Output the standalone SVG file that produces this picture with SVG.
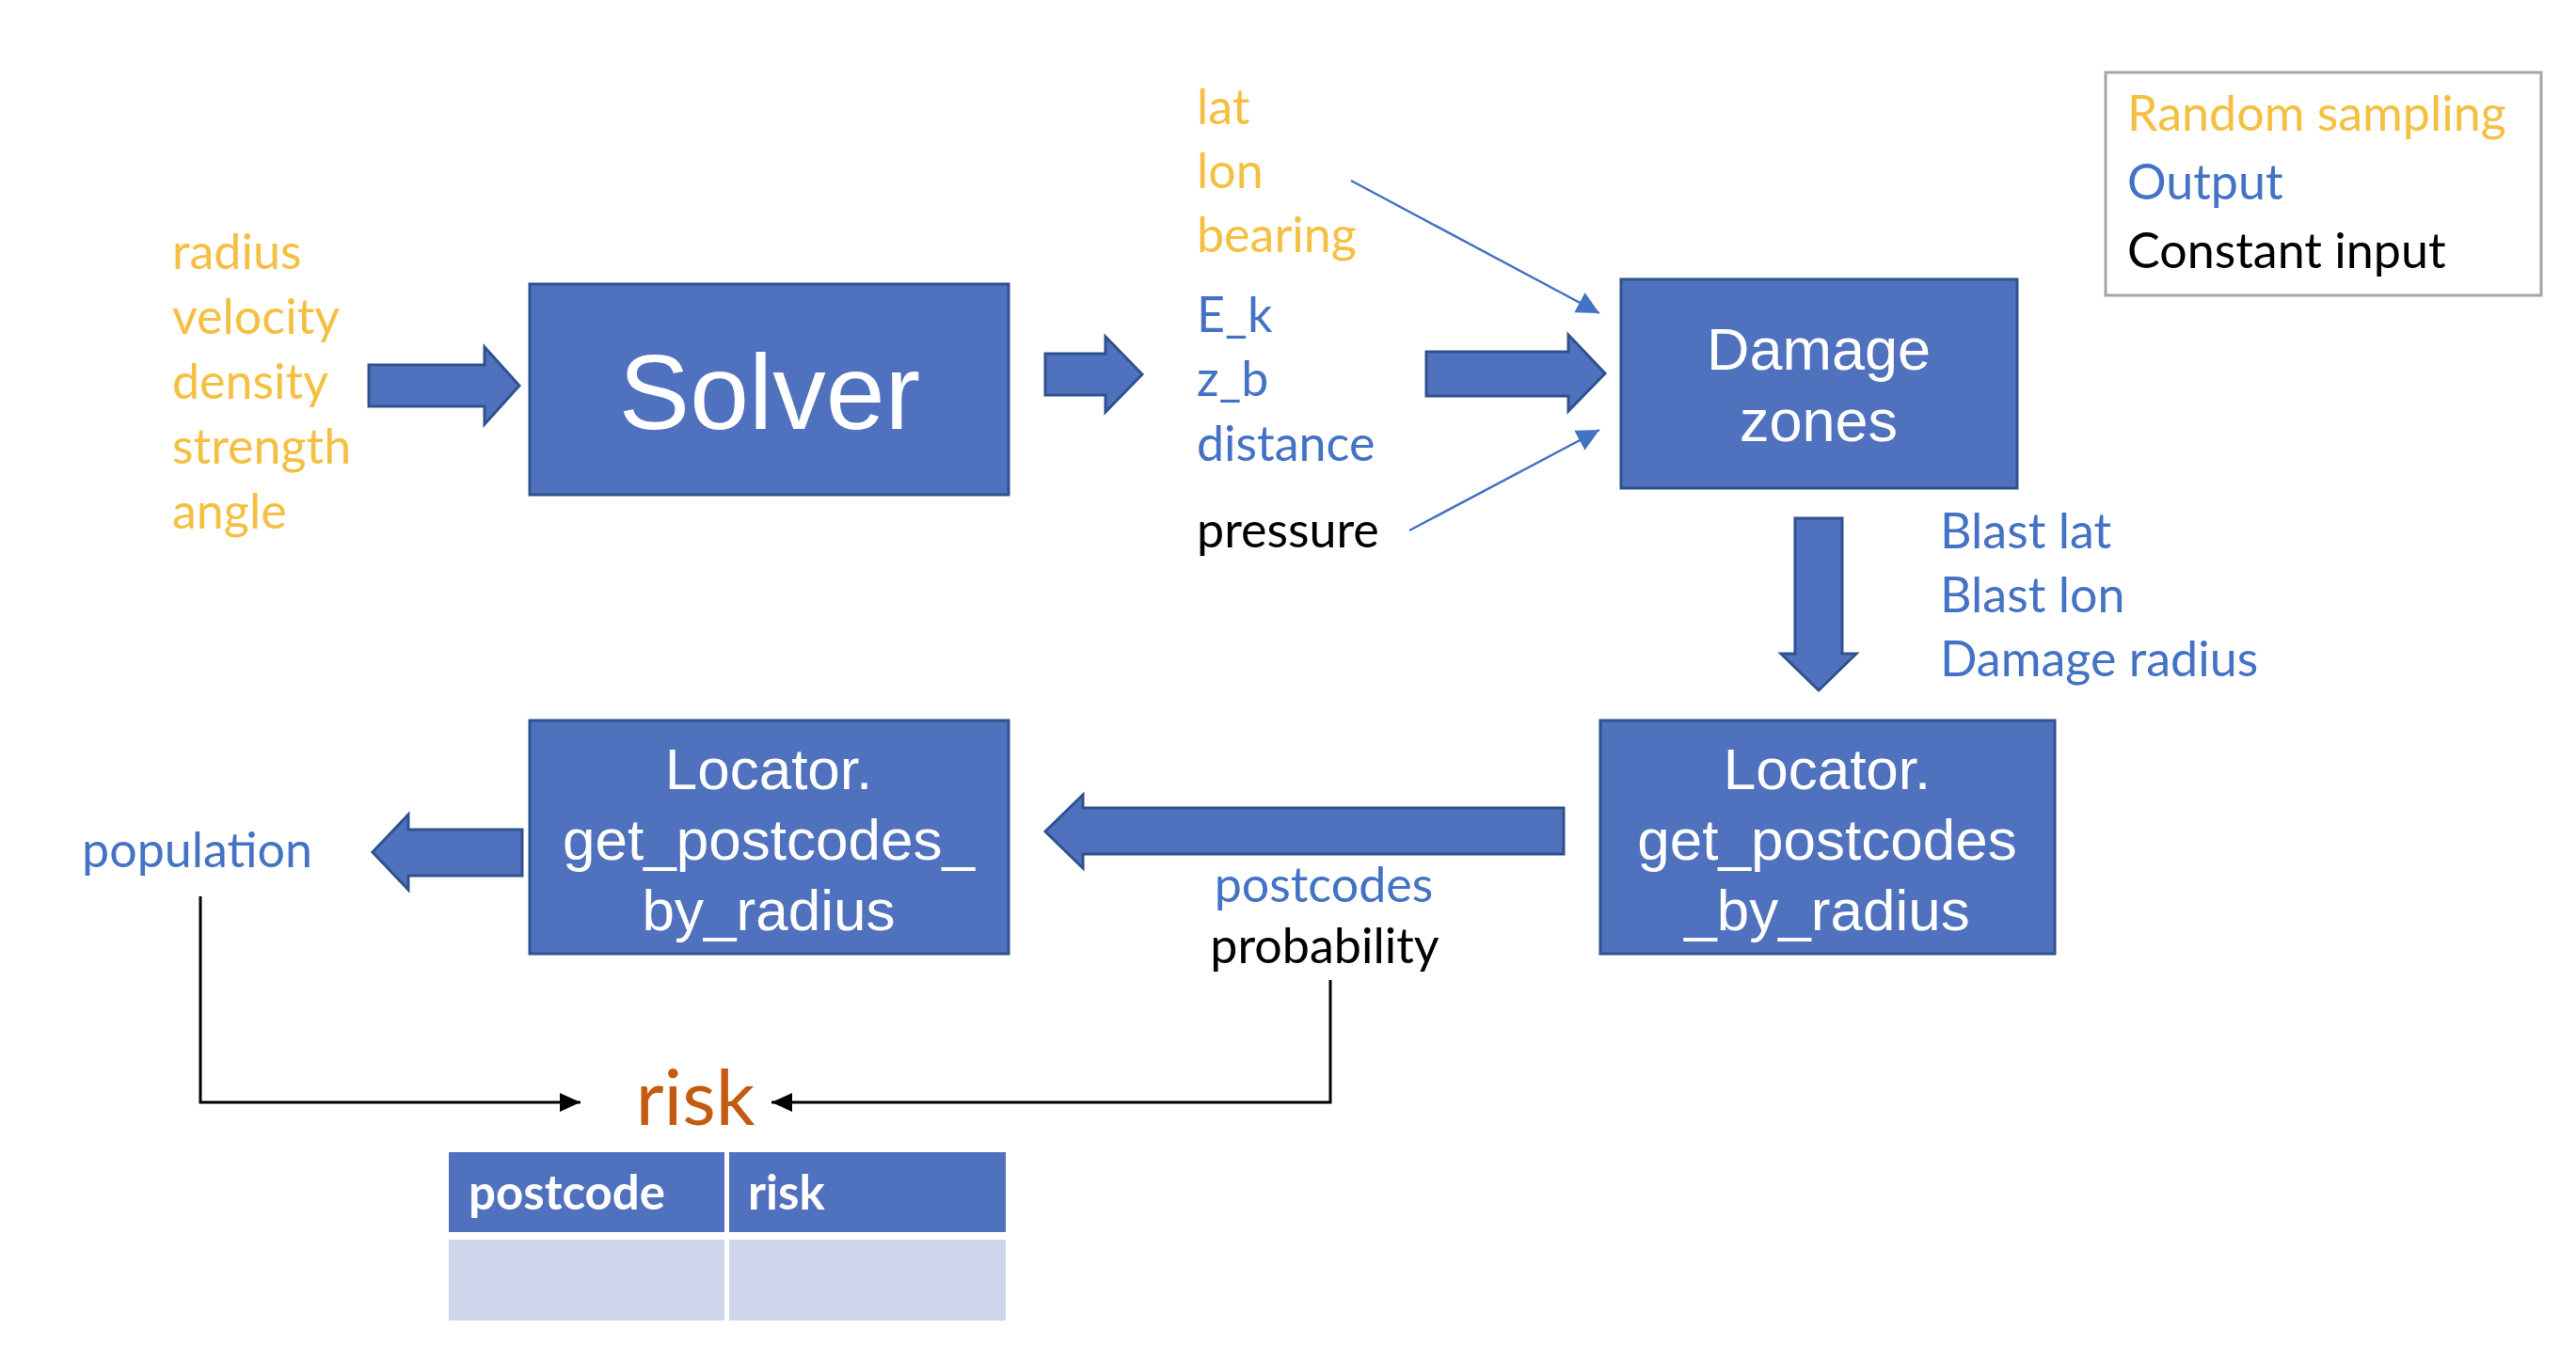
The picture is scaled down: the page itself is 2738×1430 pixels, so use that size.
<svg xmlns="http://www.w3.org/2000/svg" width="2738" height="1430" viewBox="0 0 2738 1430">
<defs>
<style>
.box{fill:#5072BE;stroke:#2F528F;stroke-width:3}
.barrow{fill:#5072BE;stroke:#2F528F;stroke-width:3;stroke-linejoin:miter}
.bt{font-family:"Liberation Sans",Arial,sans-serif;fill:#ffffff;text-anchor:middle}
.lbl{font-family:Lato,"Open Sans",sans-serif;font-size:52px}
.or{fill:#F5BF42}
.bl{fill:#4472C4}
.bk{fill:#000000}
.thin{stroke:#4472C4;stroke-width:2.5;fill:none}
.conn{stroke:#000;stroke-width:3;fill:none}
</style>
<marker id="ab" markerUnits="userSpaceOnUse" markerWidth="30" markerHeight="30" refX="24" refY="12" orient="auto">
<path d="M0,0 L24,12 L0,24 Z" fill="#4472C4"/>
</marker>
<marker id="ak" markerUnits="userSpaceOnUse" markerWidth="30" markerHeight="30" refX="22" refY="10" orient="auto">
<path d="M0,0 L22,10 L0,20 Z" fill="#000"/>
</marker>
</defs>
<rect width="2738" height="1430" fill="#ffffff"/>

<g id="inputs" class="lbl or">
<text x="183" y="286">radius</text>
<text x="183" y="355">velocity</text>
<text x="183" y="424">density</text>
<text x="183" y="493">strength</text>
<text x="183" y="562">angle</text>
</g>

<g id="solver">
<rect class="box" x="563" y="302" width="509" height="224"/>
<text class="bt" x="818" y="456" font-size="113">Solver</text>
</g>

<g id="solver-outputs" class="lbl">
<text class="or" x="1272" y="132">lat</text>
<text class="or" x="1272" y="200">lon</text>
<text class="or" x="1272" y="268">bearing</text>
<text class="bl" x="1272" y="353">E_k</text>
<text class="bl" x="1272" y="421">z_b</text>
<text class="bl" x="1272" y="490">distance</text>
<text class="bk" x="1272" y="582">pressure</text>
</g>

<g id="damage-zones">
<rect class="box" x="1723" y="297" width="421" height="222"/>
<text class="bt" x="1933" y="393" font-size="63">Damage</text>
<text class="bt" x="1933" y="469" font-size="63">zones</text>
</g>

<g id="blast-outputs" class="lbl bl">
<text x="2062" y="583">Blast lat</text>
<text x="2062" y="651">Blast lon</text>
<text x="2062" y="719">Damage radius</text>
</g>

<g id="legend">
<rect x="2238" y="77" width="463" height="237" fill="#fff" stroke="#A5A5A5" stroke-width="3"/>
<text class="lbl or" x="2261" y="139" font-size="53">Random sampling</text>
<text class="lbl bl" x="2261" y="212" font-size="53">Output</text>
<text class="lbl bk" x="2261" y="285" font-size="53">Constant input</text>
</g>

<g id="locator-right">
<rect class="box" x="1701" y="766" width="483" height="248"/>
<text class="bt" x="1942" y="839" font-size="62">Locator.</text>
<text class="bt" x="1942" y="914" font-size="62">get_postcodes</text>
<text class="bt" x="1942" y="989" font-size="62">_by_radius</text>
</g>

<g id="postcodes-prob" class="lbl" text-anchor="middle">
<text class="bl" x="1407" y="959">postcodes</text>
<text class="bk" x="1408" y="1024">probability</text>
</g>

<g id="locator-left">
<rect class="box" x="563" y="766" width="509" height="248"/>
<text class="bt" x="817" y="839" font-size="62">Locator.</text>
<text class="bt" x="817" y="914" font-size="62">get_postcodes_</text>
<text class="bt" x="817" y="989" font-size="62">by_radius</text>
</g>

<g id="population">
<text class="lbl bl" x="87" y="922">population</text>
</g>

<g id="risk">
<text x="739" y="1196" font-family="Lato,'Open Sans',sans-serif" font-size="82" fill="#C55A11" text-anchor="middle">risk</text>
</g>

<g id="risk-table">
<rect x="477" y="1225" width="293" height="85" fill="#5072BE"/>
<rect x="775" y="1225" width="294" height="85" fill="#5072BE"/>
<rect x="477" y="1318" width="293" height="86" fill="#CFD5EA"/>
<rect x="775" y="1318" width="294" height="86" fill="#CFD5EA"/>
<text x="498" y="1286" font-family="Lato,'Open Sans',sans-serif" font-weight="bold" font-size="51" fill="#fff">postcode</text>
<text x="795" y="1286" font-family="Lato,'Open Sans',sans-serif" font-weight="bold" font-size="51" fill="#fff">risk</text>
</g>

<g id="connectors">
<path class="barrow" d="M392,388 H515 V369 L552,410 L515,451 V432 H392 Z"/>
<path class="barrow" d="M1111,376 H1175 V358 L1214,398 L1175,438 V420 H1111 Z"/>
<path class="barrow" d="M1516,374 H1667 V356 L1706,397 L1667,437 V421 H1516 Z"/>
<path class="barrow" d="M1908,551 H1958 V695 H1973 L1933,734 L1893,695 H1908 Z"/>
<path class="barrow" d="M1662,859 H1151 V845 L1111,884 L1151,923 V908 H1662 Z"/>
<path class="barrow" d="M555,882 H434 V866 L396,906 L434,946 V931 H555 Z"/>
<line class="thin" x1="1436" y1="192" x2="1700" y2="333" marker-end="url(#ab)"/>
<line class="thin" x1="1498" y1="564" x2="1700" y2="457" marker-end="url(#ab)"/>
<polyline class="conn" points="213,953 213,1172 617,1172" marker-end="url(#ak)"/>
<polyline class="conn" points="1414,1042 1414,1172 820,1172" marker-end="url(#ak)"/>
</g>
</svg>
